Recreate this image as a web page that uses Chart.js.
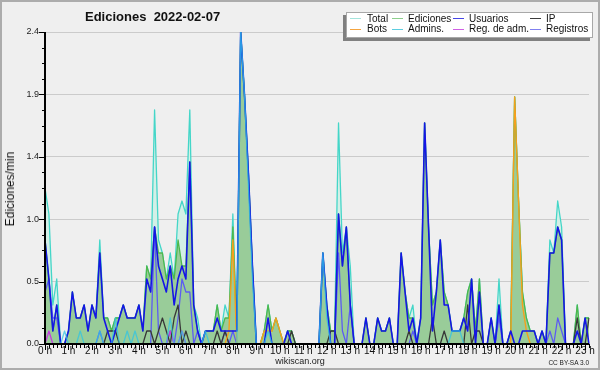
<!DOCTYPE html>
<html>
<head>
<meta charset="utf-8">
<title>Ediciones 2022-02-07</title>
<script src="https://cdn.jsdelivr.net/npm/chart.js@4.4.1/dist/chart.umd.min.js"></script>
<style>
  html, body { margin: 0; padding: 0; background: #efefef; }
  #wrap { position: relative; width: 600px; height: 370px; overflow: hidden; font-family: "Liberation Sans", Arial, sans-serif; color: #111; }
  #chart { position: absolute; left: 0; top: 0; }
  #frame { position: absolute; left: 0; top: 0; width: 600px; height: 370px; box-sizing: border-box; border: 2px solid #acacac; pointer-events: none; }
  #title { position: absolute; left: 85px; top: 9px; font-size: 13px; line-height: 15px; font-weight: bold; white-space: pre; }
  #ytitle { position: absolute; left: 10px; top: 189px; width: 0; height: 0; }
  #ytitle span { position: absolute; left: 0; top: 0; transform: translate(-50%, -50%) rotate(-90deg); white-space: nowrap; font-size: 12px; }
  #legendBox { position: absolute; left: 346px; top: 12px; width: 247px; height: 26px; box-sizing: border-box; background: #fff; border: 1px solid #a8a8a8; box-shadow: -3px 3px 0 #808080; }
  .lg-line { position: absolute; height: 1px; width: 11px; }
  .lg-text { position: absolute; font-size: 10px; line-height: 11px; white-space: nowrap; }
  #site { position: absolute; left: 0; width: 600px; top: 356px; text-align: center; font-size: 9px; line-height: 11px; color: #222; }
  #licence { position: absolute; right: 11px; top: 359px; font-size: 6.5px; line-height: 8px; color: #222; }
</style>
</head>
<body>
<div id="wrap">
  <canvas id="chart" width="600" height="370"></canvas>
  <div id="title">Ediciones  2022-02-07</div>
  <div id="ytitle"><span>Ediciones/min</span></div>
  <div id="legendBox"></div>
  <div id="legend"></div>
  <div id="site">wikiscan.org</div>
  <div id="licence">CC BY-SA 3.0</div>
  <div id="frame"></div>
</div>
<script>
// 10 minute steps, 00:00 to 23:10
var times = [];
for (var k = 0; k < 140; k++) {
  var hh = Math.floor(k / 6), mm = (k % 6) * 10;
  times.push(hh + ':' + (mm < 10 ? '0' : '') + mm);
}

var hourLabels = ['0 h', '1 h', '2 h', '3 h', '4 h', '5 h', '6 h', '7 h', '8 h', '9 h', '10 h', '11 h',
  '12 h', '13 h', '14 h', '15 h', '16 h', '17 h', '18 h', '19 h', '20 h', '21 h', '22 h', '23 h'];
var yTicks = [0, 0.48, 0.96, 1.44, 1.92, 2.4];

// edits per minute
var total = [
  1.2, 1.0, 0.3, 0.5, 0, 0, 0.1, 0.4, 0.2, 0.2, 0.3, 0.1,
  0.3, 0.2, 0.8, 0.2, 0.2, 0.1, 0.2, 0.2, 0.3, 0.2, 0.2, 0.2,
  0.3, 0.1, 0.6, 0.5, 1.8, 0.8, 0.7, 0.5, 0.7, 0.5, 1.0, 1.1,
  1.0, 1.8, 0.3, 0.2, 0, 0.1, 0.1, 0.1, 0.3, 0.1, 0.3, 0.2,
  1.0, 0.1, 2.4, 1.9, 1.3, 0.6, 0, 0, 0.1, 0.3, 0.1, 0.2,
  0.1, 0, 0.1, 0.1, 0, 0, 0, 0, 0, 0, 0, 0.7,
  0.3, 0.1, 0.1, 1.7, 0.7, 0.9, 0.6, 0, 0, 0, 0.2, 0,
  0, 0.2, 0.1, 0.1, 0.2, 0, 0, 0.7, 0.4, 0.2, 0.3, 0,
  0.2, 1.7, 0.9, 0.3, 0.4, 0.8, 0.4, 0.3, 0.1, 0.1, 0.1, 0.2,
  0.4, 0.5, 0.1, 0.5, 0, 0, 0.2, 0, 0.5, 0, 0, 0.1,
  1.9, 1.1, 0.4, 0.2, 0.1, 0.1, 0, 0.1, 0, 0.8, 0.7, 1.1,
  0.9, 0, 0, 0, 0.3, 0, 0.2, 0.2
];
var ediciones = [
  0.8, 0.5, 0.1, 0.3, 0, 0, 0.1, 0.4, 0.2, 0.2, 0.3, 0.1,
  0.3, 0.2, 0.7, 0.2, 0.2, 0.1, 0.2, 0.2, 0.3, 0.2, 0.2, 0.2,
  0.3, 0.1, 0.6, 0.5, 0.9, 0.7, 0.7, 0.5, 0.6, 0.5, 0.8, 0.6,
  0.6, 1.4, 0.3, 0.1, 0, 0.1, 0.1, 0.1, 0.3, 0.1, 0.2, 0.2,
  0.9, 0.1, 2.4, 1.9, 1.3, 0.6, 0, 0, 0.1, 0.3, 0.1, 0.2,
  0.1, 0, 0.1, 0.1, 0, 0, 0, 0, 0, 0, 0, 0.7,
  0.3, 0.1, 0.1, 1.0, 0.6, 0.9, 0.3, 0, 0, 0, 0.2, 0,
  0, 0.2, 0.1, 0.1, 0.2, 0, 0, 0.7, 0.4, 0.2, 0.2, 0,
  0.2, 1.7, 0.9, 0.3, 0.4, 0.8, 0.4, 0.3, 0.1, 0.1, 0.1, 0.2,
  0.4, 0.5, 0.1, 0.5, 0, 0, 0.2, 0, 0.3, 0, 0, 0.1,
  1.9, 1.1, 0.4, 0.2, 0.1, 0.1, 0, 0.1, 0, 0.7, 0.7, 0.9,
  0.8, 0, 0, 0, 0.3, 0, 0.2, 0.2
];
var usuarios = [
  0.8, 0.5, 0.1, 0.3, 0, 0, 0.1, 0.4, 0.2, 0.2, 0.3, 0.1,
  0.3, 0.2, 0.7, 0.2, 0.1, 0, 0.1, 0.2, 0.3, 0.2, 0.2, 0.2,
  0.3, 0.1, 0.5, 0.4, 0.9, 0.6, 0.5, 0.4, 0.6, 0.3, 0.5, 0.6,
  0.5, 1.4, 0.3, 0.1, 0, 0.1, 0.1, 0.1, 0.2, 0.1, 0.1, 0.1,
  0.1, 0.1, 2.4, 1.9, 1.3, 0.6, 0, 0, 0, 0.2, 0, 0,
  0, 0, 0.1, 0, 0, 0, 0, 0, 0, 0, 0, 0.7,
  0.3, 0, 0, 1.0, 0.6, 0.9, 0.3, 0, 0, 0, 0.2, 0,
  0, 0.2, 0.1, 0.1, 0.2, 0, 0, 0.7, 0.4, 0.1, 0.2, 0,
  0.2, 1.7, 0.9, 0.1, 0.4, 0.8, 0.3, 0.3, 0.1, 0.1, 0.1, 0.2,
  0.1, 0.5, 0, 0.4, 0, 0, 0.2, 0, 0.3, 0, 0, 0.1,
  0, 0, 0.1, 0.1, 0.1, 0.1, 0, 0.1, 0, 0.7, 0.7, 0.9,
  0.8, 0, 0, 0, 0.1, 0, 0.2, 0
];
var ip = [
  0, 0, 0, 0, 0, 0, 0, 0, 0, 0, 0, 0,
  0, 0, 0, 0, 0.1, 0.1, 0.1, 0, 0, 0, 0, 0,
  0, 0, 0.1, 0.1, 0, 0.1, 0.2, 0.1, 0, 0.2, 0.3, 0,
  0.1, 0, 0, 0, 0, 0, 0, 0, 0.1, 0, 0.1, 0,
  0, 0, 0, 0, 0, 0, 0, 0, 0, 0, 0, 0,
  0, 0, 0, 0.1, 0, 0, 0, 0, 0, 0, 0, 0,
  0, 0.1, 0.1, 0, 0, 0, 0, 0, 0, 0, 0, 0,
  0, 0, 0, 0, 0, 0, 0, 0, 0, 0.1, 0, 0,
  0, 0, 0, 0.2, 0, 0, 0.1, 0, 0, 0, 0, 0,
  0.3, 0, 0.1, 0.1, 0, 0, 0, 0, 0, 0, 0, 0,
  0, 0, 0, 0, 0, 0, 0, 0, 0, 0, 0, 0,
  0, 0, 0, 0, 0.2, 0, 0, 0.2
];
var bots = [
  0, 0, 0, 0, 0, 0, 0, 0, 0, 0, 0, 0,
  0, 0, 0, 0, 0, 0, 0, 0, 0, 0, 0, 0,
  0, 0, 0, 0, 0, 0, 0, 0, 0, 0, 0, 0,
  0, 0, 0, 0, 0, 0, 0, 0, 0, 0, 0, 0.1,
  0.8, 0, 0, 0, 0, 0, 0, 0, 0.1, 0.1, 0.1, 0.2,
  0.1, 0, 0, 0, 0, 0, 0, 0, 0, 0, 0, 0,
  0, 0, 0, 0, 0, 0, 0, 0, 0, 0, 0, 0,
  0, 0, 0, 0, 0, 0, 0, 0, 0, 0, 0, 0,
  0, 0, 0, 0, 0, 0, 0, 0, 0, 0, 0, 0,
  0, 0, 0, 0, 0, 0, 0, 0, 0, 0, 0, 0,
  1.9, 1.1, 0.3, 0.1, 0, 0, 0, 0, 0, 0, 0, 0,
  0, 0, 0, 0, 0, 0, 0, 0
];
var admins = [
  0, 0, 0, 0, 0, 0.1, 0, 0, 0, 0.1, 0, 0,
  0, 0, 0.1, 0, 0, 0, 0.2, 0, 0, 0.1, 0, 0.1,
  0, 0, 0, 0, 0, 0, 0, 0, 0.2, 0, 0, 0.1,
  0, 0, 0, 0, 0, 0.1, 0, 0, 0, 0, 0, 0,
  0, 0, 2.4, 1.9, 1.2, 0.5, 0, 0, 0, 0.1, 0, 0,
  0, 0, 0, 0, 0, 0, 0, 0, 0, 0, 0, 0.7,
  0.2, 0, 0, 0, 0, 0, 0, 0, 0, 0, 0, 0,
  0, 0, 0, 0, 0, 0, 0, 0, 0, 0, 0, 0,
  0, 0, 0, 0, 0, 0, 0, 0, 0.1, 0.1, 0.1, 0,
  0, 0, 0, 0, 0, 0, 0, 0, 0, 0, 0, 0,
  0, 0, 0, 0, 0, 0, 0, 0, 0, 0, 0, 0,
  0, 0, 0, 0, 0, 0, 0, 0
];
var regAdm = [
  0, 0.1, 0, 0, 0, 0, 0, 0, 0, 0, 0, 0,
  0, 0, 0, 0, 0, 0, 0, 0, 0, 0, 0, 0,
  0, 0, 0, 0, 0, 0, 0, 0, 0.1, 0, 0, 0.1,
  0, 0, 0, 0, 0, 0, 0, 0, 0, 0, 0, 0,
  0, 0, 0, 0, 0, 0, 0, 0, 0, 0, 0, 0,
  0, 0, 0, 0, 0, 0, 0, 0, 0, 0, 0, 0,
  0, 0, 0, 0, 0, 0, 0, 0, 0, 0, 0, 0,
  0, 0, 0, 0, 0, 0, 0, 0, 0, 0, 0, 0,
  0, 0, 0, 0, 0, 0, 0, 0, 0, 0, 0, 0,
  0, 0, 0, 0, 0, 0, 0, 0, 0, 0, 0, 0,
  0, 0, 0, 0, 0, 0, 0, 0, 0, 0, 0, 0,
  0, 0, 0, 0, 0, 0, 0, 0
];
var registros = [
  0.4, 0.5, 0.2, 0.2, 0, 0, 0, 0, 0, 0, 0, 0,
  0, 0, 0.1, 0, 0, 0, 0, 0, 0, 0, 0, 0,
  0, 0, 0, 0, 0.9, 0.1, 0, 0, 0.1, 0, 0.2, 0.5,
  0.4, 0.4, 0, 0.1, 0, 0, 0, 0, 0, 0, 0.1, 0,
  0.1, 0, 0, 0, 0, 0, 0, 0, 0, 0, 0, 0,
  0, 0, 0, 0, 0, 0, 0, 0, 0, 0, 0, 0,
  0, 0, 0, 0.7, 0.1, 0, 0.3, 0, 0, 0, 0, 0,
  0, 0, 0, 0, 0, 0, 0, 0, 0, 0, 0.1, 0,
  0, 0, 0, 0, 0, 0, 0, 0, 0, 0, 0, 0,
  0, 0, 0, 0, 0, 0, 0, 0, 0.2, 0, 0, 0,
  0, 0, 0, 0, 0, 0, 0, 0, 0, 0.1, 0, 0.2,
  0.1, 0, 0, 0, 0, 0, 0, 0
];

Chart.defaults.font.family = '"Liberation Sans", Arial, sans-serif';
Chart.defaults.color = '#111';

function series(label, data, color, width, order, fillColor) {
  return {
    label: label,
    data: data,
    borderColor: color,
    borderWidth: width,
    backgroundColor: fillColor || color,
    fill: fillColor ? 'origin' : false,
    order: order
  };
}

// lower order is drawn on top
var datasets = [
  series('Total', total, '#44d6c8', 1.3, 8, '#d4efe7'),
  series('Ediciones', ediciones, '#4cb84c', 1.3, 7, '#99cc99'),
  series('Usuarios', usuarios, '#1515e6', 1.6, 2),
  series('IP', ip, '#383838', 1.3, 4),
  series('Bots', bots, '#f5a01c', 1.4, 3),
  series('Admins.', admins, 'rgba(48,196,228,0.75)', 1.3, 1),
  series('Reg. de adm.', regAdm, '#c43ce0', 1.3, 5),
  series('Registros', registros, '#5c5cf2', 1.3, 6)
];
var legendColors = ['#a4e4dc', '#8ccf8c', '#4646e6', '#3c3c3c', '#f5a540', '#5ccde0', '#d060e4', '#8080f0'];

// axis lines and small tick marks
var axesPlugin = {
  id: 'axesPlugin',
  afterDraw: function(chart) {
    var ctx = chart.ctx, a = chart.chartArea;
    var xs = chart.scales.x, ys = chart.scales.y;
    ctx.save();
    ctx.strokeStyle = '#000';
    ctx.lineWidth = 1;
    ctx.beginPath();
    for (var k = 0; k < times.length; k++) {
      var px = Math.round(xs.getPixelForValue(k)) + 0.5;
      ctx.moveTo(px, a.bottom);
      ctx.lineTo(px, a.bottom + (k % 6 === 0 ? 6 : 4));
    }
    var step = yTicks[1] / 4;
    for (var j = 0; j <= (yTicks.length - 1) * 4; j++) {
      var py = Math.round(ys.getPixelForValue(j * step)) + 0.5;
      ctx.moveTo(a.left, py);
      ctx.lineTo(a.left - (j % 4 === 0 ? 6 : 3), py);
    }
    ctx.stroke();
    ctx.lineWidth = 2;
    ctx.beginPath();
    ctx.moveTo(a.left, a.top);
    ctx.lineTo(a.left, a.bottom);
    ctx.lineTo(a.right, a.bottom);
    ctx.stroke();
    ctx.restore();
  }
};

new Chart(document.getElementById('chart'), {
  type: 'line',
  data: { labels: times, datasets: datasets },
  options: {
    responsive: false,
    animation: false,
    events: [],
    layout: { padding: { top: 32, right: 11, left: 0, bottom: 0 } },
    elements: {
      point: { radius: 0 },
      line: { tension: 0, borderJoinStyle: 'round' }
    },
    plugins: {
      legend: { display: false },
      title: { display: false },
      tooltip: { enabled: false }
    },
    scales: {
      x: {
        grid: { display: false, drawTicks: false },
        border: { display: false },
        afterFit: function(s) { s.height = 26; },
        ticks: {
          autoSkip: false,
          maxRotation: 0,
          minRotation: 0,
          padding: 1,
          font: { size: 10 },
          color: '#111',
          callback: function(val, idx) {
            return idx % 6 === 0 ? hourLabels[idx / 6] : '';
          }
        }
      },
      y: {
        min: 0,
        max: 2.4,
        afterBuildTicks: function(s) {
          s.ticks = yTicks.map(function(v) { return { value: v }; });
        },
        afterFit: function(s) { s.width = 45; },
        grid: { color: '#cbcbcb', lineWidth: 1, drawTicks: false },
        border: { display: false },
        ticks: {
          padding: 6,
          font: { size: 9 },
          color: '#222',
          callback: function(v) { return Number(v).toFixed(1); }
        }
      }
    }
  },
  plugins: [axesPlugin]
});

// legend: 2 rows of 4
var legendLineX = [350, 392, 453, 530];
var legendTextX = [367, 408, 469, 546];
var legendRowY = [13, 23];
var legendLineY = [18, 29];
var legend = document.getElementById('legend');
datasets.forEach(function(ds, n) {
  var col = n % 4, row = Math.floor(n / 4);
  var ln = document.createElement('div');
  ln.className = 'lg-line';
  ln.style.left = legendLineX[col] + 'px';
  ln.style.top = legendLineY[row] + 'px';
  ln.style.background = legendColors[n];
  legend.appendChild(ln);
  var tx = document.createElement('div');
  tx.className = 'lg-text';
  tx.style.left = legendTextX[col] + 'px';
  tx.style.top = legendRowY[row] + 'px';
  tx.textContent = ds.label;
  legend.appendChild(tx);
});
</script>
</body>
</html>
